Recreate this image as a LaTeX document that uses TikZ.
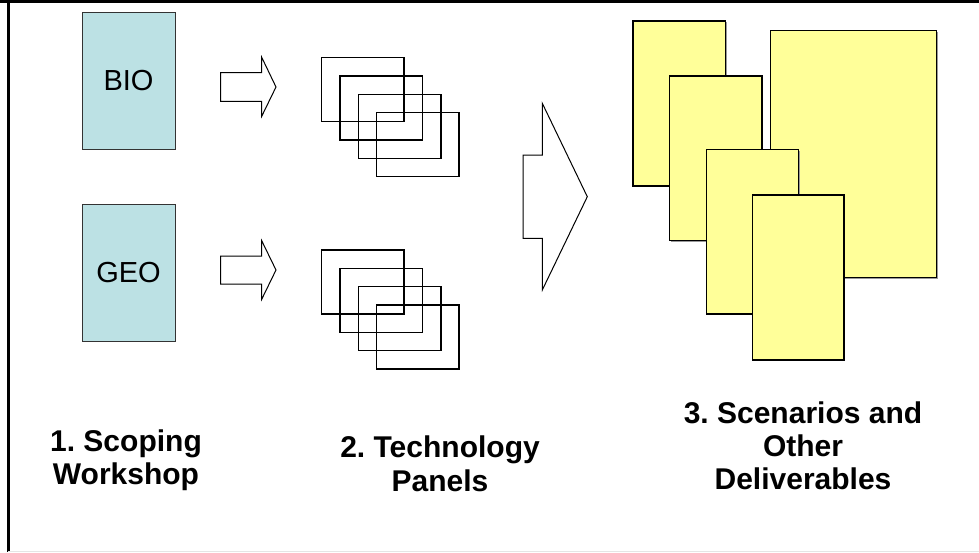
\documentclass[tikz,border=0pt]{standalone}
\usepackage{fontspec}
\setmainfont{Liberation Sans}
\usetikzlibrary{shadows}
\definecolor{boxcyan}{HTML}{BCE1E4}
\definecolor{docyellow}{HTML}{FFFF99}
\tikzset{
  catbox/.style={draw=black!80, line width=1pt, fill=boxcyan, anchor=north west,
    inner sep=0pt, outer sep=0pt, minimum width=93pt, minimum height=137pt,
    font=\fontsize{29}{33}\selectfont},
  panelbox/.style={draw=black, line width=1.5pt, anchor=north west, inner sep=0pt,
    outer sep=0pt, minimum width=82.5pt, minimum height=64pt},
  docbox/.style={draw=black, line width=1.2pt, fill=docyellow, anchor=north west,
    inner sep=0pt, outer sep=0pt,
    drop shadow={shadow xshift=1.3pt, shadow yshift=-1.3pt, fill=black!40, opacity=1}},
  blockarrow/.style={draw=black, line width=1pt, fill=white, line join=miter},
  steplabel/.style={anchor=base, inner sep=0pt,
    font=\fontsize{30}{33}\selectfont\bfseries\frenchspacing}
}
\begin{document}
\begin{tikzpicture}[x=1pt, y=-1pt]
\useasboundingbox (0,0) rectangle (979,552);
% frame
\draw[line width=3pt] (0,1.5) -- (979,1.5);
\draw[line width=3pt] (8,0) -- (8,552);
\draw[black!10, line width=1pt] (8,551.5) -- (979,551.5);

% category boxes
\node[catbox] (bio) at (82,12) {BIO};
\node[catbox] (geo) at (82,204) {GEO};

% small arrows
\draw[blockarrow] (220.7,72.7) -- (261.7,72.7) -- (261.7,57.3) -- (276,87)
  -- (261.7,116.3) -- (261.7,101.3) -- (220.7,101.3) -- cycle;
\draw[blockarrow] (220.7,256) -- (261.7,256) -- (261.7,240.7) -- (276,270)
  -- (261.7,299.3) -- (261.7,284) -- (220.7,284) -- cycle;

% panels, top group
\node[panelbox] (pa1) at (321.7,57.7) {};
\node[panelbox] (pa2) at (340,76) {};
\node[panelbox] (pa3) at (358.3,94.3) {};
\node[panelbox] (pa4) at (376.6,112.6) {};
% panels, bottom group
\node[panelbox] (pb1) at (321.7,250) {};
\node[panelbox] (pb2) at (340,268.3) {};
\node[panelbox] (pb3) at (358.3,286.6) {};
\node[panelbox] (pb4) at (376.6,304.9) {};

% big arrow
\draw[blockarrow] (523,155) -- (542.3,155) -- (542.3,103.3) -- (587.3,196.7)
  -- (542.3,290) -- (542.3,238.3) -- (523,238.3) -- cycle;

% deliverable documents
\node[docbox, minimum width=92.3pt, minimum height=165pt] (da) at (633,21) {};
\node[docbox, minimum width=92.3pt, minimum height=164.7pt] (db) at (669.7,76) {};
\node[docbox, minimum width=166pt, minimum height=247pt] (dc) at (770.3,30.3) {};
\node[docbox, minimum width=91.6pt, minimum height=164.7pt] (dd) at (706.7,149.3) {};
\node[docbox, minimum width=91.7pt, minimum height=165pt] (de) at (752.3,195) {};

% step labels
\node[steplabel] (s1a) at (126,451.5) {1. Scoping};
\node[steplabel] (s1b) at (126,484.5) {Workshop};
\node[steplabel] (s2a) at (440,457.7) {2. Technology};
\node[steplabel] (s2b) at (440,491) {Panels};
\node[steplabel] (s3a) at (803,423.3) {3. Scenarios and};
\node[steplabel] (s3b) at (803,456.5) {Other};
\node[steplabel] (s3c) at (803,489.7) {Deliverables};
\end{tikzpicture}
\end{document}
